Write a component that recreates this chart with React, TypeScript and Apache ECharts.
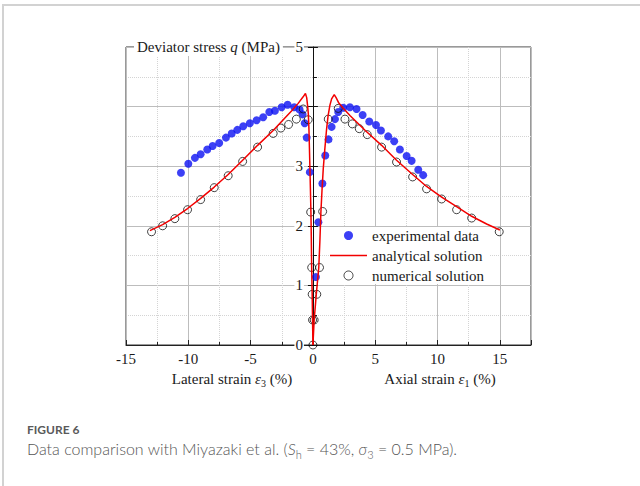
import React, { useEffect, useRef } from "react";
import * as echarts from "echarts";

// ---- Data (strain %, deviator stress MPa) ----
const expLateral: number[][] = [
  [-10.59, 2.89], [-10.0, 3.04], [-9.47, 3.14], [-9.01, 3.2], [-8.48, 3.28], [-8.05, 3.34],
  [-7.52, 3.39], [-6.98, 3.48], [-6.52, 3.55], [-6.07, 3.61], [-5.59, 3.67], [-5.06, 3.72],
  [-4.52, 3.77], [-3.99, 3.82], [-3.5, 3.91], [-3.05, 3.93], [-2.51, 3.99], [-2.03, 4.03],
  [-1.5, 3.99], [-1.07, 3.95], [-0.83, 3.87], [-0.66, 3.72], [-0.5, 3.48], [-0.25, 2.9],
];
const expAxial: number[][] = [
  [0.24, 1.14], [0.44, 2.06], [0.76, 2.71], [0.99, 3.18], [1.25, 3.45], [1.5, 3.66],
  [1.77, 3.79], [2.03, 3.91], [2.43, 3.98], [2.97, 3.99], [3.5, 3.96], [3.99, 3.86],
  [4.52, 3.75], [5.06, 3.69], [5.46, 3.6], [6.04, 3.5], [6.52, 3.42], [6.98, 3.28],
  [7.52, 3.17], [7.92, 3.09], [8.45, 2.94], [8.85, 2.85],
];
const numLateral: number[][] = [
  [0, 0], [-0.03, 0.42], [-0.06, 0.85], [-0.1, 1.3], [-0.18, 2.23], [-0.38, 3.78],
  [-0.78, 3.96], [-1.33, 3.79], [-1.95, 3.7], [-2.57, 3.64], [-3.19, 3.55], [-4.44, 3.32],
  [-5.64, 3.08], [-6.8, 2.84], [-7.92, 2.64], [-9.01, 2.44], [-10.06, 2.27], [-11.08, 2.12],
  [-12.06, 2.0], [-12.95, 1.9],
];
const numAxial: number[][] = [
  [0.1, 0.42], [0.31, 0.85], [0.53, 1.3], [0.78, 2.24], [1.23, 3.79], [2.03, 3.97],
  [2.57, 3.79], [3.16, 3.71], [3.72, 3.63], [4.36, 3.53], [5.51, 3.32], [6.71, 3.07],
  [8.0, 2.82], [9.12, 2.62], [10.33, 2.45], [11.53, 2.27], [12.74, 2.13], [14.95, 1.9],
];
const anaLateral: number[][] = [
  [0, 0], [-0.03, 0.42], [-0.06, 0.85], [-0.1, 1.3], [-0.13, 1.8], [-0.16, 2.23], [-0.2, 2.6],
  [-0.24, 2.96], [-0.28, 3.3], [-0.32, 3.63], [-0.37, 3.88], [-0.43, 4.02], [-0.5, 4.15],
  [-0.6, 4.22], [-0.8, 4.16], [-1.2, 4.05], [-1.7, 3.93], [-2.25, 3.81], [-3.19, 3.6],
  [-4.44, 3.35], [-5.64, 3.1], [-6.8, 2.86], [-7.92, 2.65], [-9.01, 2.46], [-10.06, 2.29],
  [-11.08, 2.14], [-12.06, 2.02], [-13.08, 1.92],
];
const anaAxial: number[][] = [
  [0, 0], [0.1, 0.42], [0.27, 0.85], [0.47, 1.3], [0.56, 1.75], [0.64, 2.23], [0.73, 2.6],
  [0.83, 2.96], [0.96, 3.3], [1.1, 3.63], [1.22, 3.85], [1.36, 4.02], [1.5, 4.13],
  [1.71, 4.2], [1.86, 4.15], [2.05, 4.07], [2.4, 3.98], [2.97, 3.85], [4.2, 3.6],
  [5.51, 3.35], [6.71, 3.1], [8.0, 2.86], [9.12, 2.66], [10.33, 2.48], [11.53, 2.32],
  [12.74, 2.16], [13.94, 2.03], [15.0, 1.93],
];
const xMin = -15;
const xMax = 17.5;
const xLabelMax = 15;
const yHiddenLabel = 4;
const legendNames = ["experimental data", "analytical solution", "numerical solution"];

const SERIF = "'Liberation Serif', 'Times New Roman', serif";
const GRID_LEFT = 126;
const GRID_WIDTH = 405;

export default function App() {
  const ref = useRef<HTMLDivElement>(null);

  useEffect(() => {
    document.body.style.margin = "0";
    const chart = echarts.init(ref.current!, null, { renderer: "svg" });
    const rich = {
      a: { fontFamily: SERIF, fontSize: 15, lineHeight: 18, fill: "#1a1a1a" },
      i: { fontFamily: SERIF, fontSize: 15, lineHeight: 18, fontStyle: "italic", fill: "#1a1a1a" },
      s: { fontFamily: SERIF, fontSize: 10, lineHeight: 10, verticalAlign: "bottom", fill: "#1a1a1a" },
    };
    // place the vertical axis at strain = 0 (offset from the grid's left edge)
    const zeroOffset = -((0 - xMin) / (xMax - xMin)) * GRID_WIDTH;
    const option: any = {
      animation: false,
      grid: {
        left: GRID_LEFT, top: 47, width: GRID_WIDTH, height: 298,
        show: true, borderColor: "#333", borderWidth: 1, backgroundColor: "transparent",
      },
      xAxis: [
        {
          type: "value", min: xMin, max: xMax, interval: 2.5, position: "bottom",
          axisLine: { show: false, onZero: false },
          axisTick: { show: true, inside: true, length: 3, lineStyle: { color: "#222" } },
          axisLabel: { show: false },
          splitLine: { show: true, lineStyle: { color: "#d4d4d4", type: "dotted", width: 1 } },
        },
        {
          type: "value", min: xMin, max: xMax, interval: 5, position: "bottom",
          axisLine: { show: true, onZero: false, lineStyle: { color: "#222", width: 1 } },
          axisTick: { show: true, inside: true, length: 5, lineStyle: { color: "#222" } },
          axisLabel: {
            formatter: (v: number) => (v > xLabelMax ? "" : String(v)),
            fontFamily: SERIF, fontSize: 15, color: "#1a1a1a", margin: 6,
          },
          splitLine: { show: true, lineStyle: { color: "#bdbdbd", width: 1 } },
        },
      ],
      yAxis: [
        {
          type: "value", min: 0, max: 5, interval: 1, position: "left", offset: zeroOffset,
          axisLine: { show: true, onZero: false, lineStyle: { color: "#111", width: 1 } },
          axisTick: { show: true, inside: true, length: 5, lineStyle: { color: "#111" } },
          minorTick: { show: true, splitNumber: 2, length: 4, lineStyle: { color: "#111" } },
          axisLabel: {
            formatter: (v: number) => (v === yHiddenLabel ? "" : String(v)),
            fontFamily: SERIF, fontSize: 15, color: "#1a1a1a", margin: 9,
            backgroundColor: "#fff", padding: [0, 1],
          },
          splitLine: { show: true, lineStyle: { color: "#bdbdbd", width: 1 } },
          minorSplitLine: { show: true, lineStyle: { color: "#d4d4d4", type: "dotted", width: 1 } },
        },
        {
          type: "value", min: 0, max: 5, interval: 1, position: "left", offset: zeroOffset,
          axisLine: { show: false, onZero: false },
          axisTick: { show: true, inside: false, length: 5, lineStyle: { color: "#111" } },
          axisLabel: { show: false },
          splitLine: { show: false },
        },
      ],
      legend: {
        data: [
          legendNames[0],
          { name: legendNames[1], icon: "path://M0,0H37V1.5H0Z" },
          { name: legendNames[2], itemStyle: { borderWidth: 1 } },
        ],
        orient: "vertical",
        left: 330, top: 227,
        itemWidth: 37, itemHeight: 9, itemGap: 5,
        padding: [1, 5, 1, 0],
        backgroundColor: "#fff",
        selectedMode: false,
        textStyle: { fontFamily: SERIF, fontSize: 15, lineHeight: 15, color: "#1a1a1a" },
      },
      graphic: [
        {
          type: "text", x: 134, y: 47, z: 100,
          style: {
            text: "{a|Deviator stress }{i|q}{a| (MPa)}", rich,
            align: "left", verticalAlign: "middle",
            backgroundColor: "#fff", padding: [0, 3, 0, 3],
          },
        },
        {
          type: "text", x: 232, y: 379, z: 100,
          style: { text: "{a|Lateral strain }{i|ε}{s|3}{a| (%)}", rich, align: "center", verticalAlign: "middle" },
        },
        {
          type: "text", x: 440, y: 379, z: 100,
          style: { text: "{a|Axial strain }{i|ε}{s|1}{a| (%)}", rich, align: "center", verticalAlign: "middle" },
        },
      ],
      series: [
        {
          name: "experimental data", type: "scatter", xAxisIndex: 1, yAxisIndex: 0,
          data: expLateral, symbol: "circle", symbolSize: 8, itemStyle: { color: "#0b10f2" }, z: 2,
        },
        {
          name: "experimental data", type: "scatter", xAxisIndex: 1, yAxisIndex: 0,
          data: expAxial, symbol: "circle", symbolSize: 8, itemStyle: { color: "#0b10f2" }, z: 2,
        },
        {
          name: "numerical solution", type: "scatter", xAxisIndex: 1, yAxisIndex: 0,
          data: numLateral, symbol: "circle", symbolSize: 8,
          itemStyle: { color: "rgba(255,255,255,0)", borderColor: "#111", borderWidth: 1 }, z: 3,
        },
        {
          name: "numerical solution", type: "scatter", xAxisIndex: 1, yAxisIndex: 0,
          data: numAxial, symbol: "circle", symbolSize: 8,
          itemStyle: { color: "rgba(255,255,255,0)", borderColor: "#111", borderWidth: 1 }, z: 3,
        },
        {
          name: "analytical solution", type: "line", xAxisIndex: 1, yAxisIndex: 0,
          data: anaLateral, symbol: "none", lineStyle: { color: "#f20000", width: 1.5 },
          itemStyle: { color: "#f20000" }, z: 4,
        },
        {
          name: "analytical solution", type: "line", xAxisIndex: 1, yAxisIndex: 0,
          data: anaAxial, symbol: "none", lineStyle: { color: "#f20000", width: 1.5 },
          itemStyle: { color: "#f20000" }, z: 4,
        },
      ],
    };
    chart.setOption(option);
    return () => chart.dispose();
  }, []);

  return (
    <div style={{ position: "relative", width: 640, height: 486, background: "#fff", overflow: "hidden" }}>
      <div
        style={{
          position: "absolute", left: 2, top: 4, right: 0, bottom: 0,
          borderTop: "2px solid #d2d2d2", borderLeft: "2px solid #d2d2d2",
        }}
      />
      <div ref={ref} style={{ position: "absolute", left: 0, top: 0, width: 640, height: 486 }} />
      <div
        style={{
          position: "absolute", left: 27, top: 424, fontFamily: "Lato, 'Open Sans', sans-serif",
          fontSize: 12, lineHeight: "12px", fontWeight: 700, color: "#5a5a5a", whiteSpace: "nowrap",
        }}
      >
        FIGURE 6
      </div>
      <div
        style={{
          position: "absolute", left: 27, top: 441, fontFamily: "Lato, 'Open Sans', sans-serif",
          fontSize: 16, lineHeight: "16px", fontWeight: 300, color: "#555", whiteSpace: "nowrap",
        }}
      >
        Data comparison with Miyazaki et al. (<i>S</i>
        <sub style={{ fontSize: 11, lineHeight: 0, verticalAlign: "-4px" }}>h</sub> = 43%, <i>σ</i>
        <sub style={{ fontSize: 11, lineHeight: 0, verticalAlign: "-4px" }}>3</sub> = 0.5 MPa).
      </div>
    </div>
  );
}
